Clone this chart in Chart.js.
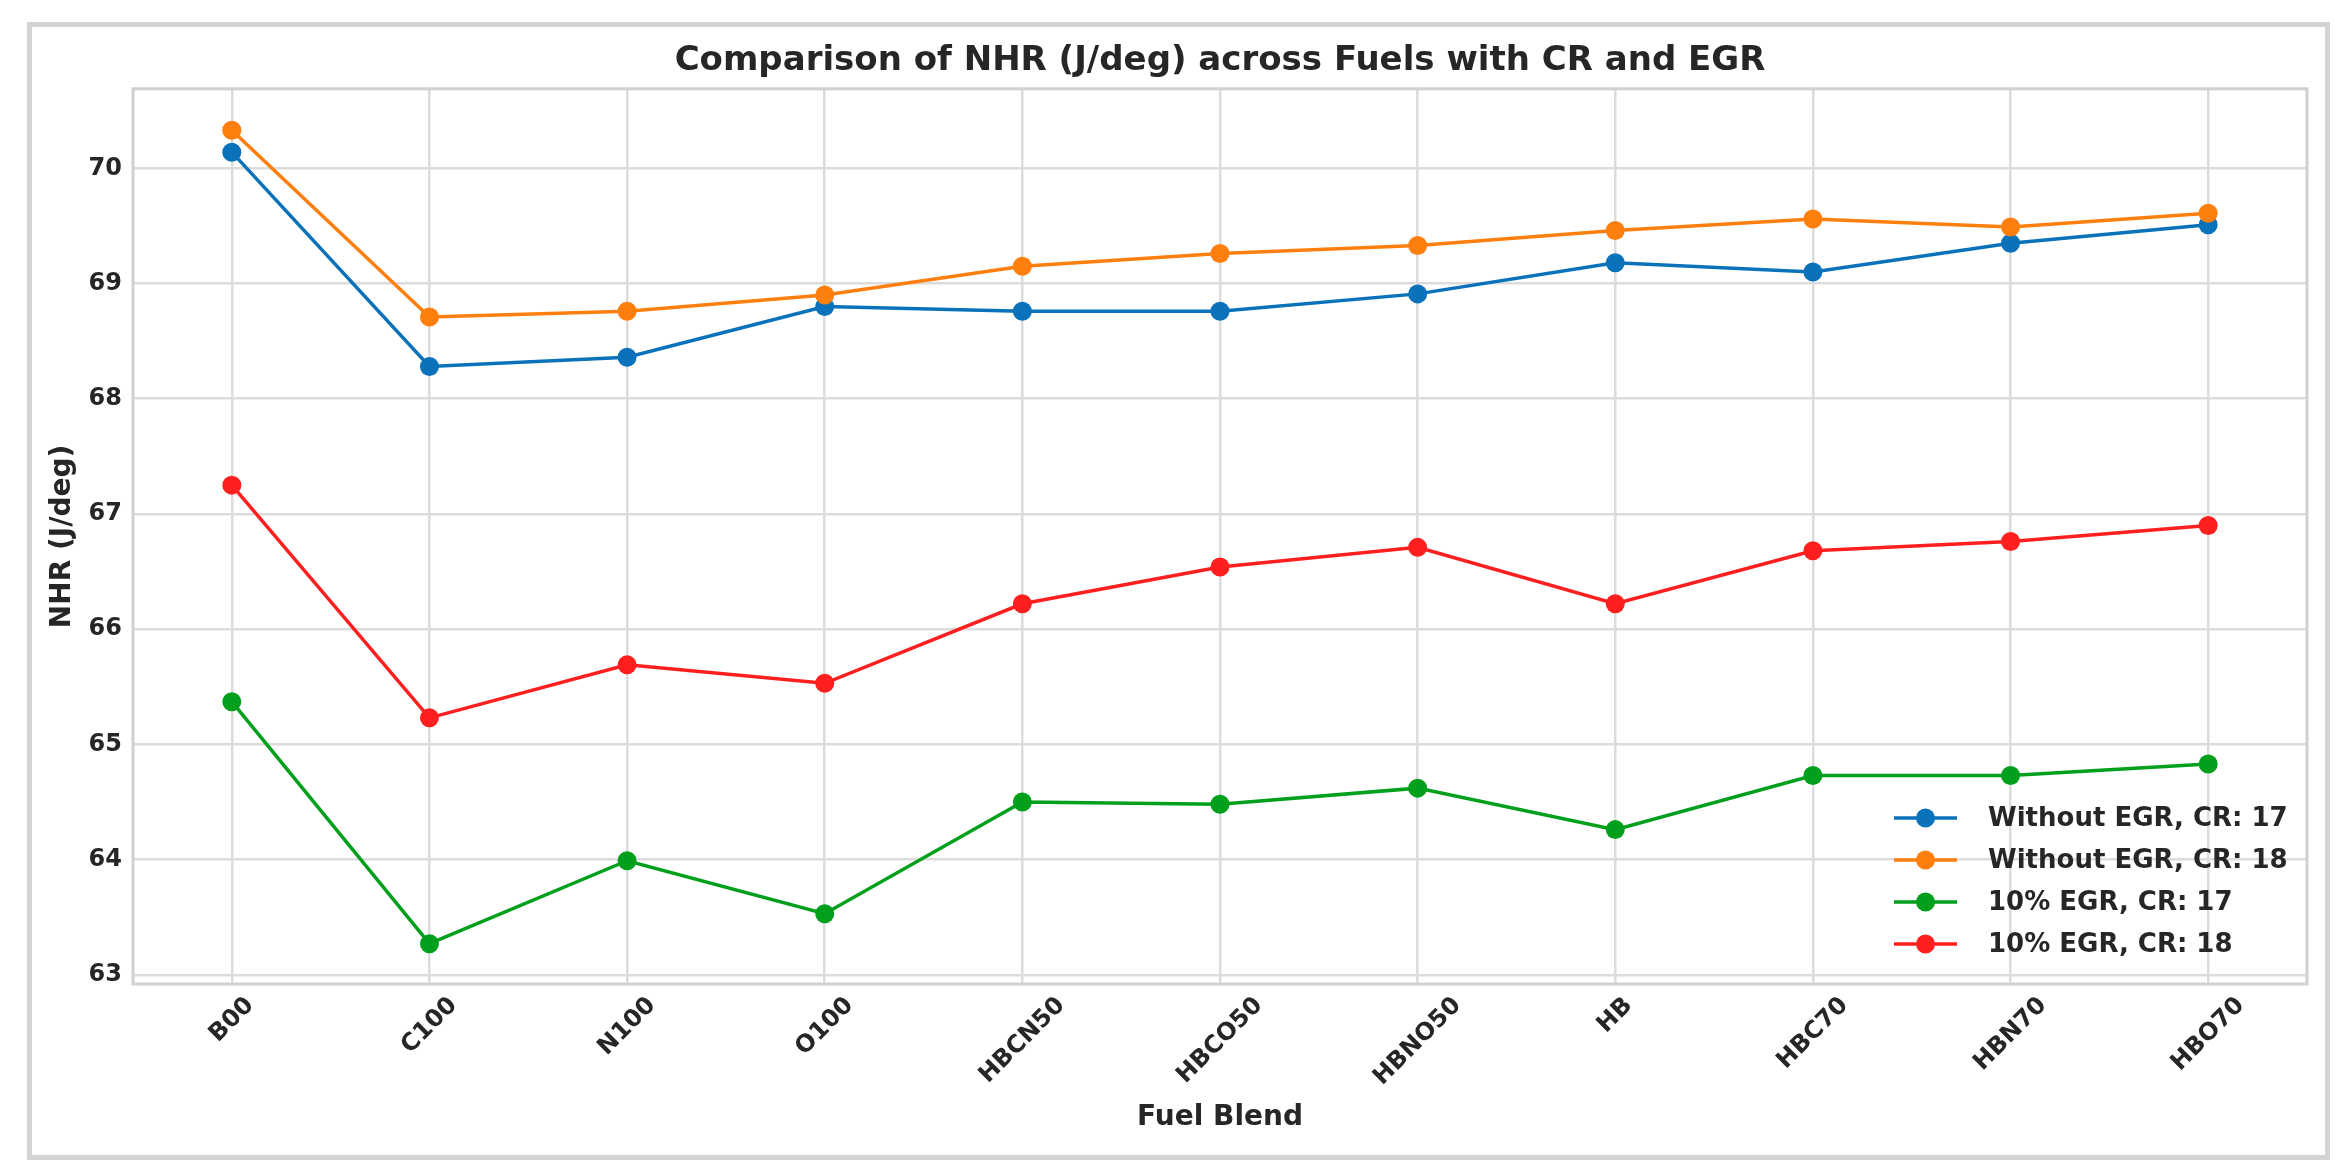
<!DOCTYPE html>
<html>
<head>
<meta charset="utf-8">
<script src="https://cdn.jsdelivr.net/npm/chart.js@4.4.1/dist/chart.umd.min.js"></script>
<style>
  html, body { margin: 0; padding: 0; background: #fff; }
  #frame {
    position: absolute; left: 27px; top: 22px;
    width: 2303px; height: 1138px; box-sizing: border-box;
    border: 5px solid #d4d4d4; background: #fff;
  }
  #box { position: relative; width: 2293px; height: 1128px; }
</style>
</head>
<body>
<div id="frame"><div id="box"><canvas id="chart"></canvas></div></div>
<script>
const fuels = ['B00', 'C100', 'N100', 'O100', 'HBCN50', 'HBCO50', 'HBNO50', 'HB', 'HBC70', 'HBN70', 'HBO70'];

const noEgrCr17 = [70.14, 68.28, 68.36, 68.80, 68.76, 68.76, 68.91, 69.18, 69.10, 69.35, 69.51];
const noEgrCr18 = [70.33, 68.71, 68.76, 68.90, 69.15, 69.26, 69.33, 69.46, 69.56, 69.49, 69.61];
const egr10Cr17 = [65.37, 63.27, 63.99, 63.53, 64.50, 64.48, 64.62, 64.26, 64.73, 64.73, 64.83];
const egr10Cr18 = [67.25, 65.23, 65.69, 65.53, 66.22, 66.54, 66.71, 66.22, 66.68, 66.76, 66.90];

const yTicks = [63, 64, 65, 66, 67, 68, 69, 70];

const FONT = '"DejaVu Sans", sans-serif';
const TEXT = '#262626';
const GRID = '#dcdcdc';

function series(label, data, color, order) {
  return {
    label, data, order,
    borderColor: color, backgroundColor: color,
    borderWidth: 3.5,
    pointRadius: 9.5, pointHoverRadius: 9.5,
    pointBorderWidth: 0,
    tension: 0
  };
}

// box around the plot area, like matplotlib spines
const spines = {
  id: 'spines',
  beforeDatasetsDraw(chart) {
    const {ctx, chartArea: a} = chart;
    ctx.save();
    ctx.strokeStyle = '#d0d0d0';
    ctx.lineWidth = 3;
    ctx.strokeRect(a.left, a.top, a.right - a.left, a.bottom - a.top);
    ctx.restore();
  }
};

// x tick labels rotated 45 deg and centred on the tick (matplotlib style)
const xLabels = {
  id: 'xLabels',
  afterDraw(chart) {
    const {ctx, chartArea: a} = chart;
    const x = chart.scales.x;
    const size = 24;
    ctx.save();
    ctx.font = 'bold ' + size + 'px ' + FONT;
    ctx.fillStyle = TEXT;
    ctx.textAlign = 'center';
    ctx.textBaseline = 'middle';
    fuels.forEach((f, i) => {
      const w = ctx.measureText(f).width;
      const h = size * 1.16;
      const H = (w + h) * Math.SQRT1_2;
      const px = x.getPixelForTick(i);
      const py = a.bottom + 8 + H / 2;
      ctx.save();
      ctx.translate(px, py);
      ctx.rotate(-Math.PI / 4);
      ctx.fillText(f, 0, 0);
      ctx.restore();
    });
    ctx.restore();
  }
};

// legend inside the plot, lower right, line + marker handles
const innerLegend = {
  id: 'innerLegend',
  afterDraw(chart) {
    const {ctx, chartArea: a} = chart;
    const x0 = a.right - 413;
    const y0 = a.bottom - 166;
    ctx.save();
    ctx.font = 'bold 26px ' + FONT;
    ctx.textBaseline = 'middle';
    ctx.textAlign = 'left';
    chart.data.datasets.forEach((ds, i) => {
      const y = y0 + i * 42;
      ctx.strokeStyle = ds.borderColor;
      ctx.lineWidth = 3.5;
      ctx.beginPath();
      ctx.moveTo(x0, y);
      ctx.lineTo(x0 + 63, y);
      ctx.stroke();
      ctx.fillStyle = ds.borderColor;
      ctx.beginPath();
      ctx.arc(x0 + 31.5, y, 9.5, 0, Math.PI * 2);
      ctx.fill();
      ctx.fillStyle = TEXT;
      ctx.fillText(ds.label, x0 + 94, y + 1);
    });
    ctx.restore();
  }
};

new Chart(document.getElementById('chart'), {
  type: 'line',
  data: {
    labels: fuels,
    datasets: [
      series('Without EGR, CR: 17', noEgrCr17, '#0a72ba', 4),
      series('Without EGR, CR: 18', noEgrCr18, '#ff7f0e', 3),
      series('10% EGR, CR: 17', egr10Cr17, '#00a01c', 2),
      series('10% EGR, CR: 18', egr10Cr18, '#ff1f1f', 1)
    ]
  },
  options: {
    responsive: true,
    maintainAspectRatio: false,
    devicePixelRatio: 1,
    animation: false,
    events: [],
    layout: { padding: { left: 0, right: 18, top: 0, bottom: 0 } },
    plugins: {
      legend: { display: false },
      tooltip: { enabled: false },
      title: {
        display: true,
        fullSize: false,
        text: 'Comparison of NHR (J/deg) across Fuels with CR and EGR',
        color: TEXT,
        font: { family: FONT, size: 34, weight: 'bold' },
        padding: { top: 14, bottom: 7 }
      }
    },
    scales: {
      x: {
        type: 'category',
        offset: true,
        grid: { color: GRID, lineWidth: 2.5, drawTicks: false, offset: false },
        border: { display: false },
        ticks: { display: false, autoSkip: false },
        title: {
          display: true, text: 'Fuel Blend', color: TEXT,
          font: { family: FONT, size: 28, weight: 'bold' },
          padding: { top: 0, bottom: 20 }
        },
        afterFit(s) { s.height = 171; s.paddingLeft = 0; s.paddingRight = 0; }
      },
      y: {
        min: 62.92,
        max: 70.69,
        grid: { color: GRID, lineWidth: 2.5, drawTicks: false },
        border: { display: false },
        afterBuildTicks(s) { s.ticks = yTicks.map(v => ({ value: v })); },
        ticks: {
          padding: 11, color: TEXT,
          font: { family: FONT, size: 24, weight: 'bold' },
          callback: v => String(v)
        },
        title: {
          display: true, text: 'NHR (J/deg)', color: TEXT,
          font: { family: FONT, size: 28, weight: 'bold' },
          padding: { top: 14, bottom: 0 }
        },
        afterFit(s) { s.width = 101; s.paddingTop = 0; s.paddingBottom = 0; }
      }
    }
  },
  plugins: [spines, xLabels, innerLegend]
});
</script>
</body>
</html>
